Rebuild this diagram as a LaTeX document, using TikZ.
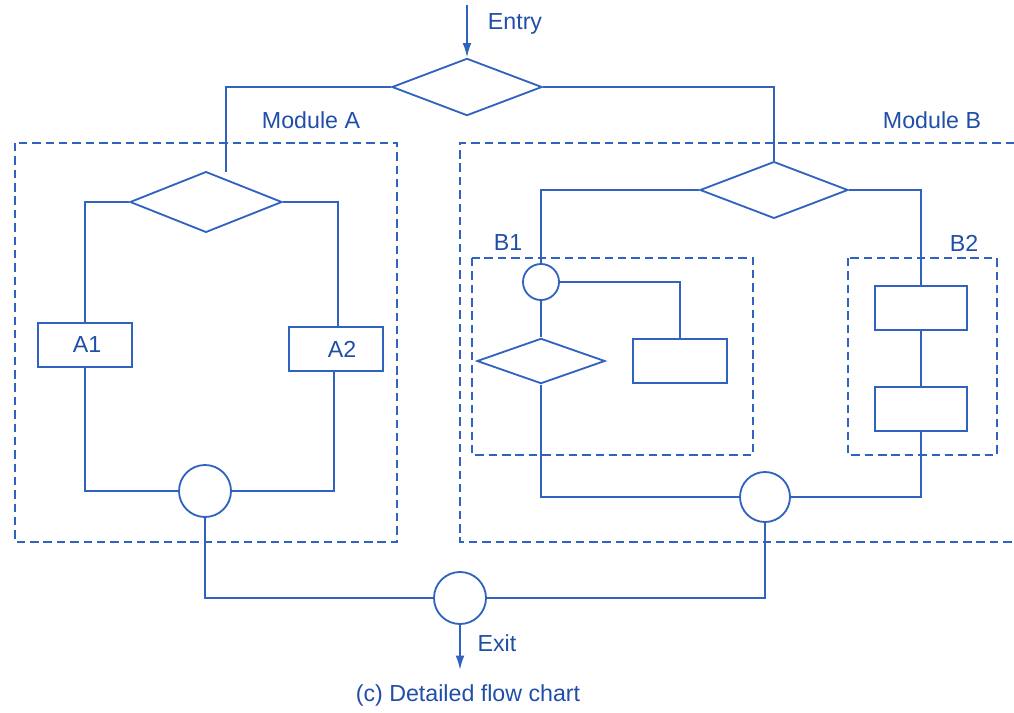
\documentclass[tikz,border=0pt]{standalone}
\usepackage{fontspec}
\setmainfont{Liberation Sans}
\usetikzlibrary{shapes,positioning,calc,arrows.meta}
\definecolor{flowblue}{RGB}{48,98,192}
\definecolor{textblue}{RGB}{32,78,168}

\begin{document}
\begin{tikzpicture}[x=0.025cm, y=-0.025cm, color=flowblue, line width=1.3pt,
  >={Latex[length=3.6mm,width=2.2mm]},
  decision/.style={diamond, draw, inner sep=0pt, minimum width=3.8cm, minimum height=1.45cm},
  proc/.style={rectangle, draw, inner sep=0pt, minimum width=2.35cm, minimum height=1.1cm, text=textblue, font=\fontsize{16.5}{19}\selectfont},
  joint/.style={circle, draw, inner sep=0pt, minimum size=#1},
  module/.style={dash pattern=on 6pt off 3.5pt, line width=1.2pt},
  lbl/.style={text=textblue, font=\fontsize{16.5}{19}\selectfont, inner sep=0pt}]

\useasboundingbox (0,0) rectangle (1014,712);

% MAIN DECISION

\node [decision, minimum width=3.75cm, minimum height=1.43cm] (top) at (467,87) {};
\coordinate (entry) at (467,5);
\node [lbl] (entrytext) at (515,24) {Entry};

% MODULE A

\draw [module] (15,143) rectangle (397,542);
\node [lbl] (modatitle) at (311,120) {Module A};

\node [decision, minimum height=1.52cm] (deca) at (206,202) {};
\coordinate (aend) at (226,172);

\node [proc] (a1) at (85,345) {\hspace*{0.1cm}A1};
\node [proc] (a2) at (336,349) {\hspace*{0.3cm}A2};

\node [joint=1.3cm] (joina) at (205,491) {};

% MODULE B

\draw [module] (1014,143) -- (460,143) -- (460,542) -- (1014,542);
\node [lbl] (modbtitle) at (932,120) {Module B};

\node [decision, minimum width=3.7cm, minimum height=1.42cm] (decb) at (774,190) {};

\draw [module] (472,258) rectangle (753,455);
\node [lbl] (b1title) at (508,243) {B1};

\node [joint=0.9cm] (b1join) at (541,282) {};
\node [decision, minimum width=3.2cm, minimum height=1.13cm] (b1dec) at (541,361) {};
\node [proc] (b1box) at (680,361) {};

\draw [module] (848,258) rectangle (997,455);
\node [lbl] (b2title) at (964,243) {B2};

\node [proc, minimum width=2.3cm] (b2top) at (921,308) {};
\node [proc, minimum width=2.3cm, below=1.375cm of b2top] (b2bot) {};

\node [joint=1.25cm] (joinb) at (765,497) {};

% EXIT

\node [joint=1.3cm] (exit) at (460,598) {};
\coordinate (exitend) at (460,670);
\node [lbl] (exittext) at (497,643) {Exit};
\node [lbl] (caption) at (468,695) {(c) Detailed flow chart};

% CONNECTIONS

\draw[->] (entry) -- (top.north);
\draw (top.west) -| (aend);
\draw (top.east) -| (decb.north);

\draw (deca.west) -| (a1.north);
\draw (deca.east) -| ($(a2.north) + (2,0)$);
\draw (a1.south) |- (joina.west);
\draw ($(a2.south) + (-2,0)$) |- (joina.east);

\draw (decb.west) -| (b1join.north);
\draw (b1join.east) -| (b1box.north);
\draw (b1join.south) -- (b1dec.north);
\draw (b1dec.south) |- (joinb.west);

\draw (decb.east) -| (b2top.north);
\draw (b2top.south) -- (b2bot.north);
\draw (b2bot.south) |- (joinb.east);

\draw (joina.south) |- (exit.west);
\draw (joinb.south) |- (exit.east);
\draw[->] (exit.south) -- (exitend);

\end{tikzpicture}
\end{document}
